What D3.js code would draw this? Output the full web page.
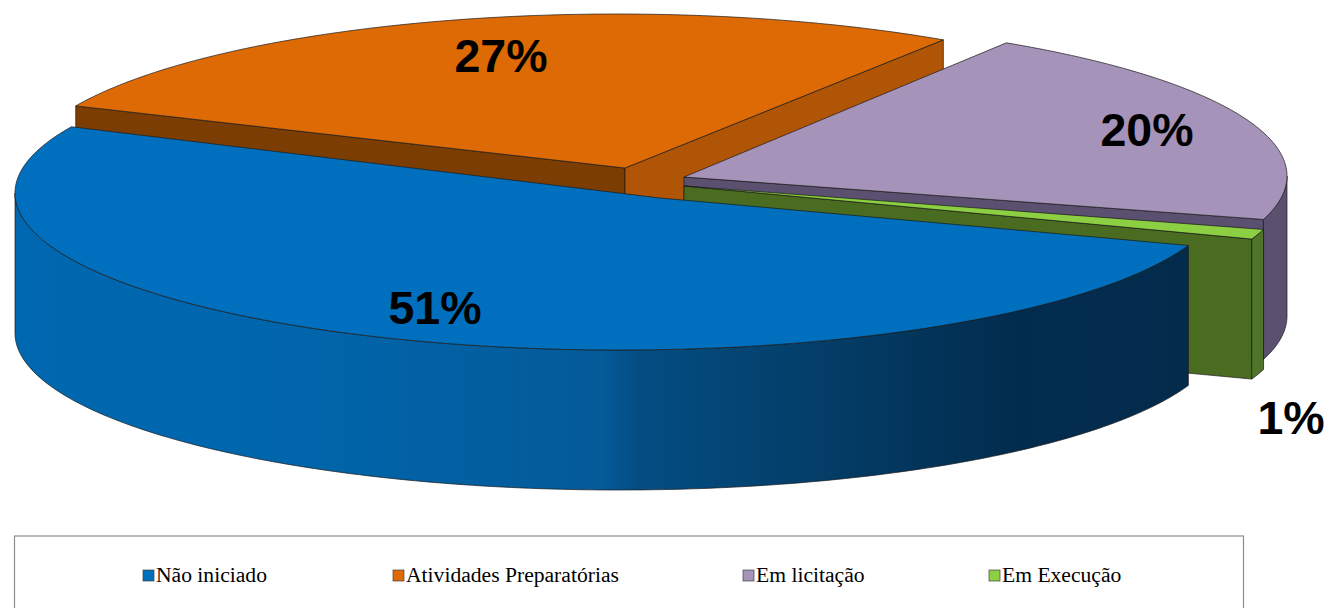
<!DOCTYPE html>
<html>
<head>
<meta charset="utf-8">
<script src="https://cdn.jsdelivr.net/npm/d3@7"></script>
<style>
  body { margin: 0; background: #fff; overflow: hidden; }
  svg { display: block; }
</style>
</head>
<body>
<div id="chart"></div>
<script>
// share of works per stage
var categories = ["Não iniciado", "Atividades Preparatórias", "Em licitação", "Em Execução"];
var values = [51, 27, 20, 1];
var labels = ["51%", "27%", "20%", "1%"];

var topColors = ["#006fbe", "#de6a05", "#a593b9", "#8ccf42"];
var startFaceColors = ["#00375f", "#7c3d03", "#5b5070", "#4c7022"];
var endFaceColors = ["#00375f", "#b05405", "#5b5070", "#4a6c20"];
var wallColors = ["url(#blueWall)", "#7c3d03", "#5b5070", "#50752a"];

var svgWidth = 1328;
var svgHeight = 608;
var depth = 140;

// each slice has its own ellipse because the pie is exploded
var rims = [
  { cx: 619, cy: 193, rx: 604, ry: 157, ax: 660, ay: 198 },
  { cx: 617, cy: 173, rx: 597, ry: 159, ax: 625, ay: 168 },
  { cx: 668, cy: 176, rx: 619, ry: 159, ax: 684, ay: 177 },
  { cx: 672, cy: 186, rx: 615, ry: 159, ax: 684, ay: 186 }
];
var labelPos = [[435, 324], [501, 72], [1147, 146], [1291, 434]];
var legendX = [143, 393, 743, 989];

var svg = d3.select("#chart")
  .append("svg")
  .attr("width", svgWidth)
  .attr("height", svgHeight);

var grad = svg.append("defs").append("linearGradient")
  .attr("id", "blueWall")
  .attr("gradientUnits", "userSpaceOnUse")
  .attr("x1", 15).attr("x2", 1190).attr("y1", 0).attr("y2", 0);
[[0, "#0068b0"], [0.25, "#0065ab"], [0.5, "#055a98"], [0.53, "#044d82"], [0.72, "#033a62"], [0.85, "#022c4e"], [1, "#032b4c"]]
  .forEach(function(s) {
    grad.append("stop").attr("offset", s[0]).attr("stop-color", s[1]);
  });

var pie = d3.pie()
  .sort(null)
  .startAngle(109.5 * Math.PI / 180)
  .endAngle((109.5 + 360) * Math.PI / 180);

var slices = pie(values);
var line = d3.line();

function rimPoint(r, a) {
  return [r.cx + r.rx * Math.sin(a), r.cy - r.ry * Math.cos(a)];
}

function arcPoints(r, a0, a1) {
  var n = Math.max(2, Math.ceil((a1 - a0) * 60));
  return d3.range(n + 1).map(function(i) {
    return rimPoint(r, a0 + (a1 - a0) * i / n);
  });
}

function drop(p) {
  return [p[0], p[1] + depth];
}

// painter's order: back slices first, blue in front
var order = [1, 2, 3, 0];
var edge = { stroke: "#1a1a1a", width: 0.7 };

order.forEach(function(i) {
  var s = slices[i];
  var r = rims[i];
  var g = svg.append("g");
  var apex = [r.ax, r.ay];

  function face(a, color) {
    var p = rimPoint(r, a);
    g.append("path")
      .attr("d", line([apex, p, drop(p), drop(apex)]) + "Z")
      .attr("fill", color)
      .attr("stroke", edge.stroke)
      .attr("stroke-width", edge.width);
  }

  // only the cut faces turned to the viewer
  if (Math.sin(s.startAngle) < 0) face(s.startAngle, startFaceColors[i]);
  if (Math.sin(s.endAngle) > 0) face(s.endAngle, endFaceColors[i]);

  // outer wall, front half of the rim only
  [[Math.PI / 2, 3 * Math.PI / 2], [5 * Math.PI / 2, 7 * Math.PI / 2]].forEach(function(w) {
    var a0 = Math.max(s.startAngle, w[0]);
    var a1 = Math.min(s.endAngle, w[1]);
    if (a1 <= a0) return;
    var pts = arcPoints(r, a0, a1);
    g.append("path")
      .attr("d", line(pts.concat(pts.map(drop).reverse())) + "Z")
      .attr("fill", wallColors[i])
      .attr("stroke", edge.stroke)
      .attr("stroke-width", edge.width);
  });

  // top
  g.append("path")
    .attr("d", line([apex].concat(arcPoints(r, s.startAngle, s.endAngle))) + "Z")
    .attr("fill", topColors[i])
    .attr("stroke", edge.stroke)
    .attr("stroke-width", edge.width);
});

// percentage labels
svg.append("g").selectAll("text")
  .data(labels)
  .enter()
  .append("text")
  .attr("x", function(d, i) { return labelPos[i][0]; })
  .attr("y", function(d, i) { return labelPos[i][1]; })
  .attr("text-anchor", "middle")
  .attr("font-family", "'Liberation Sans', Arial, sans-serif")
  .attr("font-weight", "bold")
  .attr("font-size", 46.5)
  .attr("fill", "#000")
  .text(function(d) { return d; });

// legend, the frame runs off the bottom of the page
svg.append("rect")
  .attr("x", 14.5).attr("y", 536)
  .attr("width", 1229).attr("height", 90)
  .attr("fill", "#fff")
  .attr("stroke", "#8c8c8c")
  .attr("stroke-width", 1.2);

var legend = svg.append("g").selectAll("g")
  .data(categories)
  .enter()
  .append("g")
  .attr("transform", function(d, i) { return "translate(" + legendX[i] + ",576)"; });

legend.append("rect")
  .attr("x", 0).attr("y", -6)
  .attr("width", 11).attr("height", 11)
  .attr("fill", function(d, i) { return topColors[i]; })
  .attr("stroke", "#444")
  .attr("stroke-width", 0.7);

legend.append("text")
  .attr("x", 13)
  .attr("y", 6)
  .attr("font-family", "'Liberation Serif', 'Times New Roman', serif")
  .attr("font-size", 21.6)
  .attr("fill", "#000")
  .text(function(d) { return d; });
</script>
</body>
</html>
